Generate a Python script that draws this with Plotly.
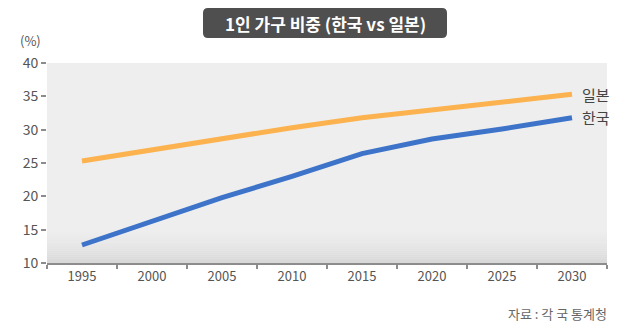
import plotly.graph_objects as go

# Share of one-person households (%)
years = ["1995", "2000", "2005", "2010", "2015", "2020", "2025", "2030"]
korea = [12.7, 16.3, 19.8, 23.0, 26.4, 28.6, 30.1, 31.8]
japan = [25.3, 27.0, 28.7, 30.3, 31.8, 33.0, 34.2, 35.3]
series_names = ["한국", "일본"]

title_text = "1인 가구 비중 (한국 vs 일본)"
unit_text = "(%)"
source_text = "자료 : 각 국 통계청"

W, H = 640, 331
L, R, T, B = 47, 33, 63, 68
PW, PH = W - L - R, H - T - B

FONT = "Noto Sans CJK KR"
TEXT = "#555555"
ORANGE = "#fbb24f"
BLUE = "#3d74c9"


def px(x):
    return (x - L) / PW


def py(y):
    return (H - B - y) / PH


fig = go.Figure()

fig.add_trace(go.Scatter(x=years, y=japan, mode="lines", name=series_names[1],
                         line=dict(color=ORANGE, width=5), hoverinfo="skip"))
fig.add_trace(go.Scatter(x=years, y=korea, mode="lines", name=series_names[0],
                         line=dict(color=BLUE, width=5), hoverinfo="skip"))

shapes = []
# plot background: flat light grey with a darker band toward the floor
steps = 16
for i in range(steps):
    v0 = 10 + 5.0 * i / steps
    v1 = 10 + 5.0 * (i + 1) / steps
    t = 1 - i / steps
    c = int(round(238 - 22 * t ** 1.5))
    shapes.append(dict(type="rect", xref="paper", yref="y", x0=0, x1=1, y0=v0, y1=v1,
                       fillcolor=f"rgb({c},{c},{c})", line=dict(width=0), layer="below"))

# rounded title badge
bx0, bx1, by0, by1, rr = 203, 447, 8, 38, 5
x0, x1 = px(bx0), px(bx1)
y0, y1 = py(by1), py(by0)
rx, ry = rr / PW, rr / PH
path = (f"M {x0+rx},{y0} L {x1-rx},{y0} Q {x1},{y0} {x1},{y0+ry} "
        f"L {x1},{y1-ry} Q {x1},{y1} {x1-rx},{y1} L {x0+rx},{y1} "
        f"Q {x0},{y1} {x0},{y1-ry} L {x0},{y0+ry} Q {x0},{y0} {x0+rx},{y0} Z")
shapes.append(dict(type="path", xref="paper", yref="paper", path=path,
                   fillcolor="#4f4f4f", line=dict(width=0)))

annotations = [
    dict(text=f"<b>{title_text}</b>", xref="paper", yref="paper",
         x=px((bx0 + bx1) / 2), y=py((by0 + by1) / 2), showarrow=False,
         font=dict(family=FONT, size=17, color="white"), xanchor="center", yanchor="middle"),
    dict(text=unit_text, xref="paper", yref="paper", x=px(43), y=py(40), showarrow=False,
         font=dict(family=FONT, size=13, color=TEXT), xanchor="right", yanchor="middle"),
    dict(text=source_text, xref="paper", yref="paper", x=px(609), y=py(313), showarrow=False,
         font=dict(family=FONT, size=13, color="#666666"), xanchor="right", yanchor="middle"),
]

# end-of-line series labels, placed just right of the last point
for name, vals in ((series_names[1], japan), (series_names[0], korea)):
    annotations.append(dict(text=name, x=len(years) - 1, y=vals[-1], xref="x", yref="y",
                            showarrow=False, xanchor="left", yanchor="middle", xshift=8,
                            font=dict(family=FONT, size=15, color="#444444")))

fig.update_layout(
    width=W, height=H,
    margin=dict(l=L, r=R, t=T, b=B, pad=0),
    paper_bgcolor="white", plot_bgcolor="#eeeeee",
    showlegend=False,
    shapes=shapes, annotations=annotations,
    font=dict(family=FONT, color=TEXT),
)
fig.update_xaxes(type="category", range=[-0.5, 7.5], tickson="boundaries",
                 ticks="outside", ticklen=4, tickwidth=2, tickcolor="#8c8c8c",
                 showline=True, linecolor="#8c8c8c", linewidth=2,
                 showgrid=False, zeroline=False,
                 tickfont=dict(family=FONT, size=13, color=TEXT))
fig.update_yaxes(range=[10, 40], dtick=5, ticks="outside", ticklen=5, tickwidth=2,
                 tickcolor="#8c8c8c", showline=False, showgrid=False, zeroline=False,
                 tickfont=dict(family=FONT, size=14, color=TEXT))

fig.write_html("out.html")
